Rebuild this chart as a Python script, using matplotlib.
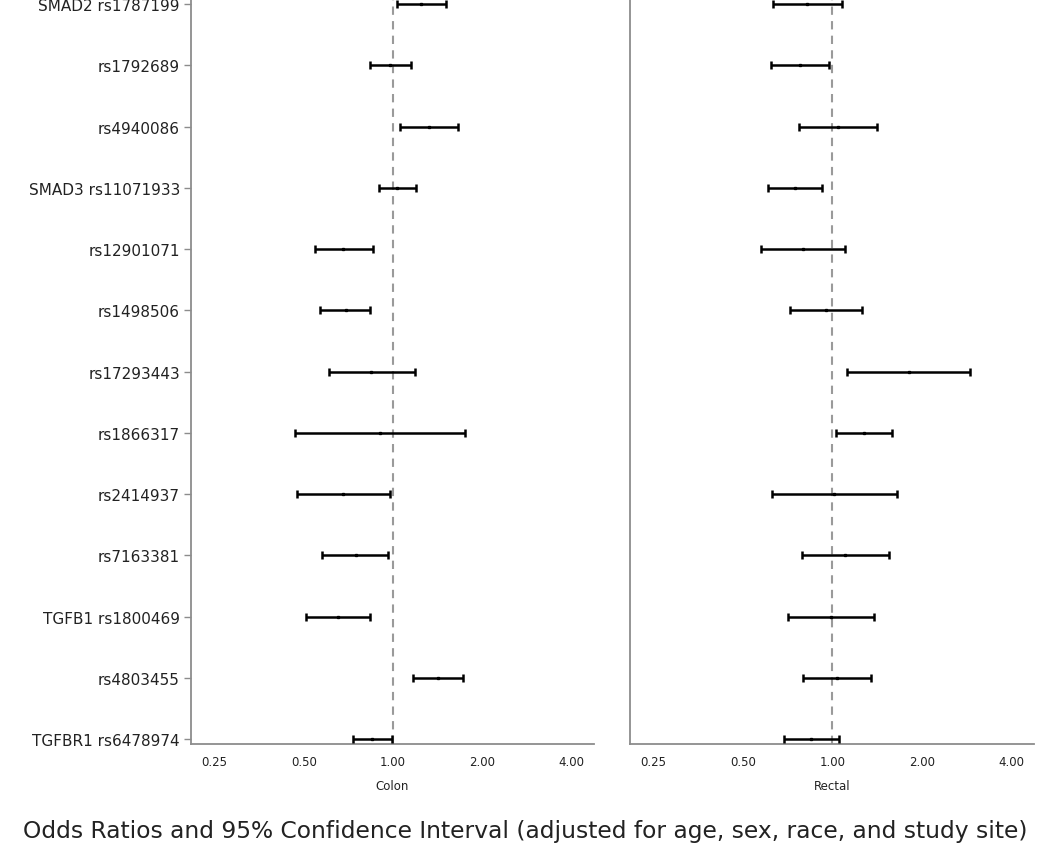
import numpy as np
import matplotlib
matplotlib.use('Agg')
from matplotlib import pyplot as plt
from matplotlib.ticker import FixedLocator, FixedFormatter, NullLocator

# SNP labels (top to bottom)
snps = ['SMAD2 rs1787199', 'rs1792689', 'rs4940086', 'SMAD3 rs11071933',
        'rs12901071', 'rs1498506', 'rs17293443', 'rs1866317', 'rs2414937',
        'rs7163381', 'TGFB1 rs1800469', 'rs4803455', 'TGFBR1 rs6478974']

# colon: odds ratio and 95% CI
colon_or = [1.243, 0.977, 1.323, 1.032, 0.680, 0.692, 0.843, 0.904, 0.678, 0.750, 0.654, 1.426, 0.849]
colon_lo = [1.032, 0.836, 1.056, 0.897, 0.546, 0.567, 0.608, 0.467, 0.474, 0.577, 0.509, 1.174, 0.733]
colon_hi = [1.509, 1.150, 1.657, 1.196, 0.854, 0.838, 1.186, 1.750, 0.977, 0.964, 0.838, 1.727, 0.992]

# rectal: odds ratio and 95% CI
rectal_or = [0.823, 0.780, 1.048, 0.750, 0.794, 0.954, 1.810, 1.279, 1.016, 1.106, 0.987, 1.037, 0.849]
rectal_lo = [0.632, 0.623, 0.774, 0.608, 0.575, 0.721, 1.124, 1.029, 0.626, 0.788, 0.710, 0.794, 0.689]
rectal_hi = [1.081, 0.977, 1.418, 0.925, 1.106, 1.255, 2.906, 1.594, 1.657, 1.553, 1.382, 1.354, 1.056]

xticks = [0.25, 0.5, 1, 2, 4]
xticklabels = ['0.25', '0.50', '1.00', '2.00', '4.00']

plt.rcParams['font.family'] = ['DejaVu Sans']

fig = plt.figure(figsize=(10.5, 8.54), dpi=100)
ax1 = fig.add_axes([191 / 1050, 109 / 854, 403 / 1050, 745 / 854])
ax2 = fig.add_axes([630 / 1050, 109 / 854, 404 / 1050, 745 / 854])

y = np.arange(len(snps))

for ax, orv, lo, hi, name in [(ax1, colon_or, colon_lo, colon_hi, 'Colon'),
                              (ax2, rectal_or, rectal_lo, rectal_hi, 'Rectal')]:
    orv = np.array(orv)
    err = [orv - np.array(lo), np.array(hi) - orv]
    ax.axvline(1.0, color='#9a9a9a', lw=1.5, ls=(0, (4, 3)), zorder=1)
    ax.errorbar(orv, y, xerr=err, fmt='s', color='black', ms=1.4,
                elinewidth=1.8, capsize=2.8, capthick=1.8, zorder=3)
    ax.set_xscale('log', base=2)
    ax.set_xlim(0.208, 4.78)
    ax.set_ylim(12.08, -0.082)
    ax.xaxis.set_major_locator(FixedLocator(xticks))
    ax.xaxis.set_major_formatter(FixedFormatter(xticklabels))
    ax.xaxis.set_minor_locator(NullLocator())
    ax.tick_params(axis='x', length=0, pad=8, labelsize=8.5, labelcolor='#222222')
    ax.set_xlabel(name, fontsize=8.5, labelpad=8, color='#222222')
    for side in ['top', 'right']:
        ax.spines[side].set_visible(False)
    for side in ['left', 'bottom']:
        ax.spines[side].set_color('#8c8c8c')
        ax.spines[side].set_linewidth(1.3)

ax1.set_yticks(y)
ax1.set_yticklabels(snps)
ax1.tick_params(axis='y', length=5, width=1, color='#8c8c8c', pad=3,
                labelsize=11, labelcolor='#222222')
ax2.set_yticks([])

fig.text(0.5, 1 - 832 / 854,
         'Odds Ratios and 95% Confidence Interval (adjusted for age, sex, race, and study site)',
         ha='center', va='center', fontsize=16.8, color='#222222')

fig.savefig('out.png', dpi=100)
